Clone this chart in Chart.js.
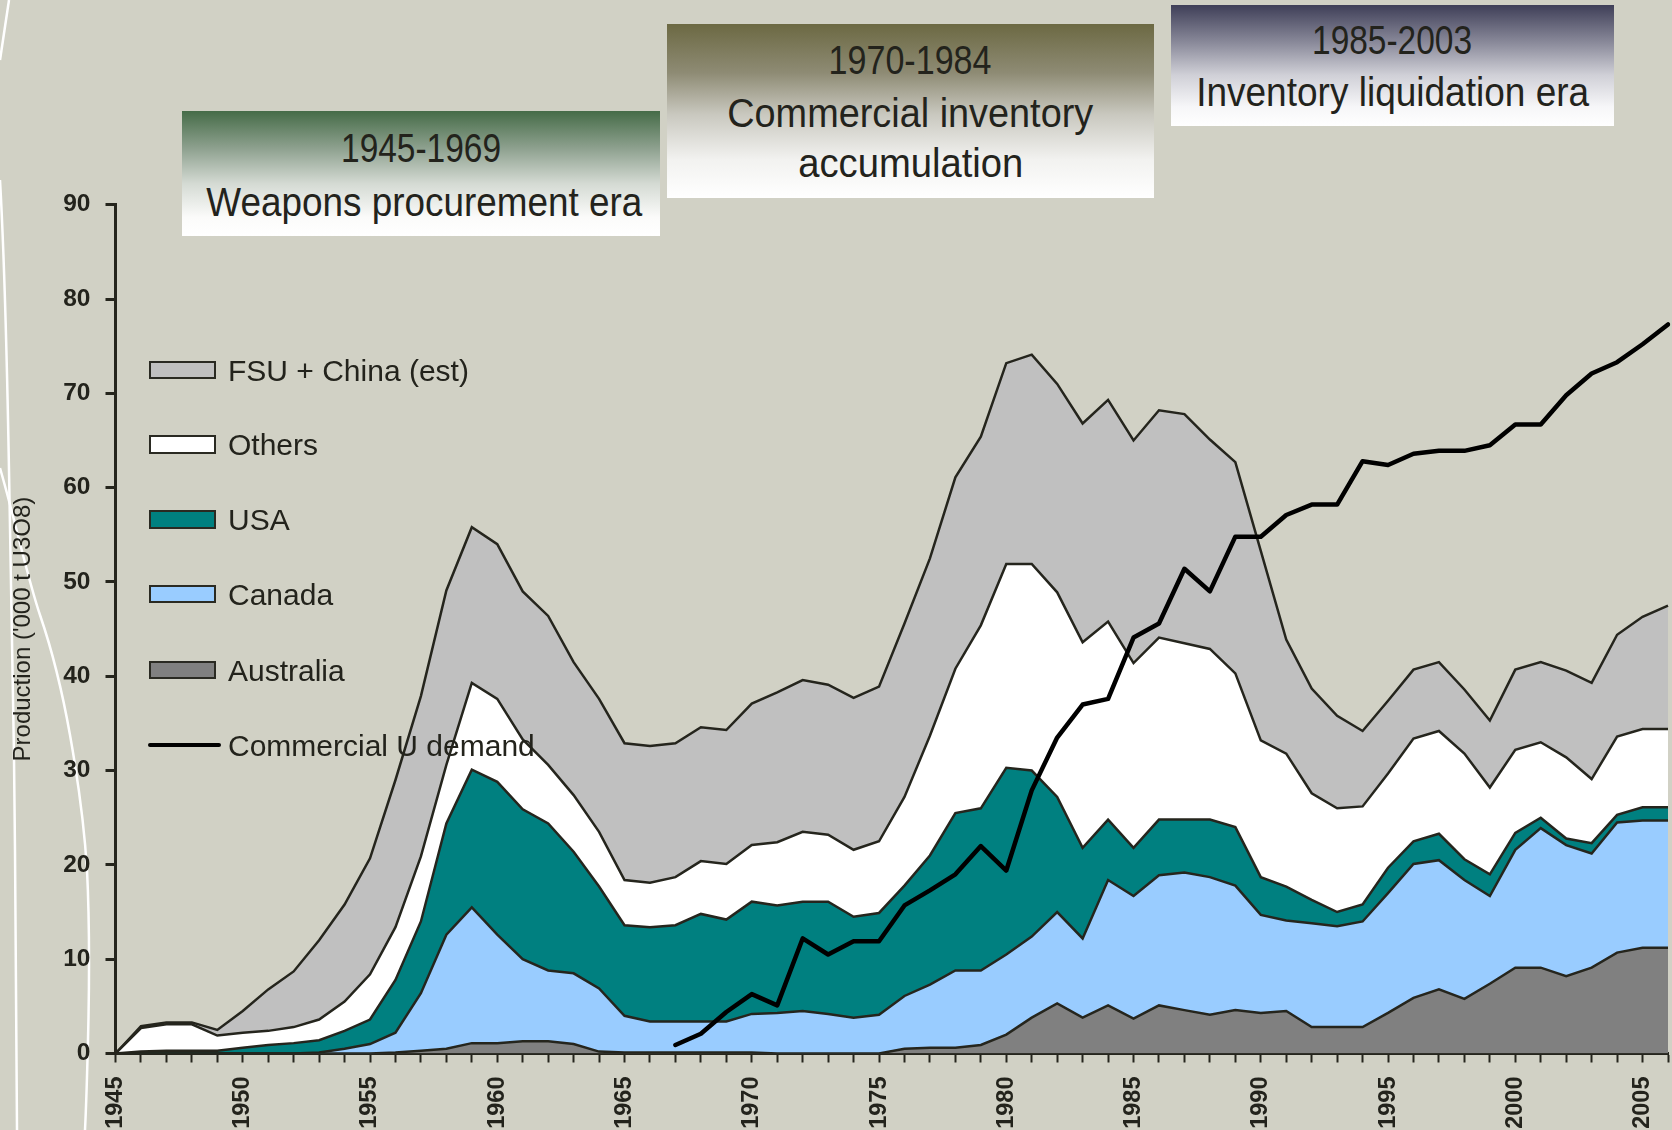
<!DOCTYPE html>
<html>
<head>
<meta charset="utf-8">
<script src="https://cdn.jsdelivr.net/npm/chart.js@4/dist/chart.umd.min.js"></script>
<style>
html,body{margin:0;padding:0;background:#d1d1c5;}
#wrap{position:relative;width:1672px;height:1130px;overflow:hidden;background:#d1d1c5;}
#deco{position:absolute;left:0;top:0;}
#cv{position:absolute;left:0;top:0;}
.box{position:absolute;font-family:"Liberation Sans",Arial,sans-serif;color:#23231c;}
.box div{position:absolute;left:0;right:0;text-align:center;font-size:41px;line-height:41px;white-space:nowrap;}
.box span{display:inline-block;transform-origin:50% 50%;}
#b1{left:182px;top:111px;width:478px;height:125px;background:linear-gradient(#466c48 0%,#8ea18f 30%,#d4dad3 58%,#fbfbfa 85%,#fff 100%);}
#b2{left:667px;top:24px;width:487px;height:174px;background:linear-gradient(#6c6943 0%,#8e8b74 28%,#c9c8bf 52%,#f2f2f0 78%,#fff 100%);}
#b3{left:1171px;top:5px;width:443px;height:121px;background:linear-gradient(#3f3f58 0%,#8c8c9c 32%,#d0d0d7 58%,#f6f6f8 84%,#fff 100%);}
.lg{position:absolute;left:149px;width:63px;height:14.5px;border:2.5px solid #2a2a22;}
.lt{position:absolute;left:228px;font-family:"Liberation Sans",Arial,sans-serif;font-size:30px;line-height:30px;color:#23231c;white-space:nowrap;}
.ll{position:absolute;left:148px;width:73px;height:4.5px;background:#000;border-radius:2px;}
</style>
</head>
<body>
<div id="wrap">
<svg id="deco" width="1672" height="1130">
  <path d="M9,0 C6,20 3,40 0,60" stroke="#fff" stroke-width="2.5" fill="none"/>
  <path d="M0,180 C4,250 7,360 9,470 C11,580 14,720 15,850 C16,960 17,1050 17,1130" stroke="#fff" stroke-width="2.5" fill="none"/>
  <path d="M0,468 C15,520 28,580 40,615 C52,650 62,690 70,735 C78,780 84,820 87,870 C90,930 89,1000 88,1040 C87,1080 86,1110 85,1130" stroke="#fff" stroke-width="2.5" fill="none"/>
</svg>
<canvas id="cv" width="1672" height="1130"></canvas>

<div class="box" id="b1">
  <div style="top:17px;" data-w="160"><span>1945-1969</span></div>
  <div style="top:71px;" data-w="436"><span>Weapons procurement era</span></div>
</div>
<div class="box" id="b2">
  <div style="top:16px;" data-w="163"><span>1970-1984</span></div>
  <div style="top:69px;" data-w="366"><span>Commercial inventory</span></div>
  <div style="top:119px;" data-w="225"><span>accumulation</span></div>
</div>
<div class="box" id="b3">
  <div style="top:14.5px;" data-w="160"><span>1985-2003</span></div>
  <div style="top:66.5px;" data-w="393"><span>Inventory liquidation era</span></div>
</div>

<div class="lg" style="top:360.5px;background:#c0c0c0;"></div>
<div class="lt" style="top:355.6px;">FSU + China (est)</div>
<div class="lg" style="top:435px;background:#ffffff;"></div>
<div class="lt" style="top:430px;">Others</div>
<div class="lg" style="top:510px;background:#008080;"></div>
<div class="lt" style="top:505px;">USA</div>
<div class="lg" style="top:584.5px;background:#99ccff;"></div>
<div class="lt" style="top:579.5px;">Canada</div>
<div class="lg" style="top:660.5px;background:#808080;"></div>
<div class="lt" style="top:655.5px;">Australia</div>
<div class="ll" style="top:742.5px;"></div>
<div class="lt" style="top:730.5px;">Commercial U demand</div>
</div>

<script>
const years = [1945,1946,1947,1948,1949,1950,1951,1952,1953,1954,1955,1956,1957,1958,1959,1960,1961,1962,1963,1964,1965,1966,1967,1968,1969,1970,1971,1972,1973,1974,1975,1976,1977,1978,1979,1980,1981,1982,1983,1984,1985,1986,1987,1988,1989,1990,1991,1992,1993,1994,1995,1996,1997,1998,1999,2000,2001,2002,2003,2004,2005,2006];

const australia = [0,0,0,0,0,0,0,0,0,0,0,0.1,0.3,0.5,1.1,1.1,1.3,1.3,1.0,0.2,0.1,0.1,0.1,0.1,0.1,0.1,0,0,0,0,0,0.5,0.6,0.6,0.9,2.0,3.8,5.3,3.8,5.1,3.7,5.1,4.6,4.1,4.6,4.3,4.5,2.8,2.8,2.8,4.3,5.9,6.8,5.8,7.4,9.1,9.1,8.2,9.1,10.7,11.2,11.2];

const canada = [0,0,0,0,0,0,0,0,0.1,0.5,1.0,2.1,6.1,12.1,14.4,11.5,8.7,7.5,7.5,6.7,3.9,3.3,3.3,3.3,3.3,4.1,4.3,4.5,4.2,3.8,4.1,5.6,6.7,8.2,7.9,8.5,8.6,9.7,8.4,13.3,13.0,13.8,14.6,14.6,13.2,10.4,9.6,11.0,10.7,11.2,12.7,14.2,13.7,12.6,9.3,12.5,14.8,13.9,12.1,13.8,13.5,13.5];

const usa = [0,0.2,0.3,0.3,0.3,0.6,0.9,1.1,1.3,1.9,2.6,5.6,7.6,11.8,14.6,16.2,15.9,15.6,12.9,10.8,9.6,10.0,10.2,11.4,10.8,11.9,11.4,11.6,11.9,10.7,10.8,11.7,13.7,16.7,17.2,19.8,17.6,12.2,9.6,6.4,5.1,5.9,5.6,6.1,6.2,4.0,3.6,2.5,1.5,1.8,2.7,2.4,2.8,2.2,2.3,1.8,1.1,0.7,1.1,0.8,1.4,1.4];

const others = [0,2.5,2.8,2.8,1.6,1.6,1.5,1.7,2.2,3.1,4.8,5.6,6.9,6.2,9.2,8.8,7.4,6.2,6.0,5.8,4.8,4.7,5.1,5.6,5.9,6.0,6.7,7.4,7.1,7.1,7.6,9.4,12.7,15.3,19.4,21.6,21.9,21.7,21.8,21.0,19.6,19.3,18.7,18.1,16.3,14.5,14.1,11.3,11.0,10.4,10.0,10.9,10.9,11.2,9.2,8.8,8.0,8.6,6.8,8.3,8.3,8.3];

const fsuChina = [0,0.2,0.2,0.2,0.6,2.3,4.4,5.9,8.4,10.3,12.3,15.6,17.0,18.5,16.5,16.4,15.7,15.8,14.1,14.1,14.5,14.5,14.2,14.2,14.2,15.0,15.9,16.1,15.9,16.1,16.4,18.4,18.8,20.3,20.0,21.3,22.2,22.1,23.2,23.5,23.6,24.1,24.3,22.2,22.4,20.1,12.1,11.1,9.8,8.0,7.7,7.3,7.3,6.8,7.1,8.5,8.5,9.2,10.2,10.8,11.9,13.1];

const demand = [null,null,null,null,null,null,null,null,null,null,null,null,null,null,null,null,null,null,null,null,null,null,0.9,2.1,4.4,6.3,5.1,12.2,10.5,11.9,11.9,15.7,17.3,19.0,22.0,19.4,27.9,33.5,37.0,37.6,44.1,45.6,51.4,49.0,54.8,54.8,57.1,58.2,58.2,62.8,62.4,63.6,63.9,63.9,64.5,66.7,66.7,69.8,72.1,73.3,75.2,77.3];

const seriesNames = ['Commercial U demand','Australia','Canada','USA','Others','FSU + China (est)'];

// condense the era-box captions to the widths of the original lettering
document.querySelectorAll('.box div').forEach(d => {
  const s = d.firstElementChild;
  const w = s.getBoundingClientRect().width;
  s.style.transform = 'scaleX(' + (parseFloat(d.dataset.w) / w) + ')';
});

const INK = '#25251d';
const TICKFONT = "'Liberation Sans',Arial,sans-serif";

function area(label, data, color, fill) {
  return {
    label, data, stack: 'prod', fill,
    backgroundColor: color, borderColor: INK, borderWidth: 2.5,
    pointRadius: 0, tension: 0, borderJoinStyle: 'miter'
  };
}

new Chart(document.getElementById('cv'), {
  type: 'line',
  data: {
    labels: years,
    datasets: [
      { label: seriesNames[0], data: demand, stack: 'demand', fill: false,
        borderColor: '#000', borderWidth: 4.5, pointRadius: 0, tension: 0,
        borderJoinStyle: 'round', borderCapStyle: 'round', spanGaps: false },
      area(seriesNames[1], australia, '#808080', 'origin'),
      area(seriesNames[2], canada, '#99ccff', '-1'),
      area(seriesNames[3], usa, '#008080', '-1'),
      area(seriesNames[4], others, '#ffffff', '-1'),
      area(seriesNames[5], fsuChina, '#c0c0c0', '-1')
    ]
  },
  options: {
    responsive: false,
    animation: false,
    devicePixelRatio: 1,
    layout: { padding: { left: 0, top: 204.7, right: 4, bottom: 0 } },
    plugins: { legend: { display: false }, tooltip: { enabled: false }, title: { display: false } },
    scales: {
      x: {
        type: 'category',
        offset: false,
        grid: { display: true, drawOnChartArea: false, drawTicks: true, tickLength: 9, tickWidth: 2, tickColor: INK, offset: false },
        border: { display: true, color: INK, width: 3 },
        ticks: {
          autoSkip: false, maxRotation: 90, minRotation: 90, padding: 14,
          color: '#23231c', font: { family: TICKFONT, size: 23.5, weight: 'bold' },
          callback: function(v, i) { const y = years[i]; return (y % 5 === 0) ? String(y) : ''; }
        },
        afterFit: function(s) { s.height = 76.5; s.paddingLeft = 0; s.paddingRight = 0; }
      },
      y: {
        stacked: true,
        min: 0, max: 90,
        grid: { display: true, drawOnChartArea: false, drawTicks: true, tickLength: 10, tickWidth: 3, tickColor: INK },
        border: { display: true, color: INK, width: 3 },
        ticks: { stepSize: 10, padding: 15, color: '#23231c', font: { family: TICKFONT, size: 24.5, weight: 'bold' } },
        title: { display: true, text: "Production ('000 t U3O8)", color: '#23231c',
                 font: { family: TICKFONT, size: 24 }, padding: { top: 9, bottom: 0 } },
        afterFit: function(s) { s.width = 115.5; s.paddingTop = 0; s.paddingBottom = 0; }
      }
    }
  }
});
</script>
</body>
</html>
